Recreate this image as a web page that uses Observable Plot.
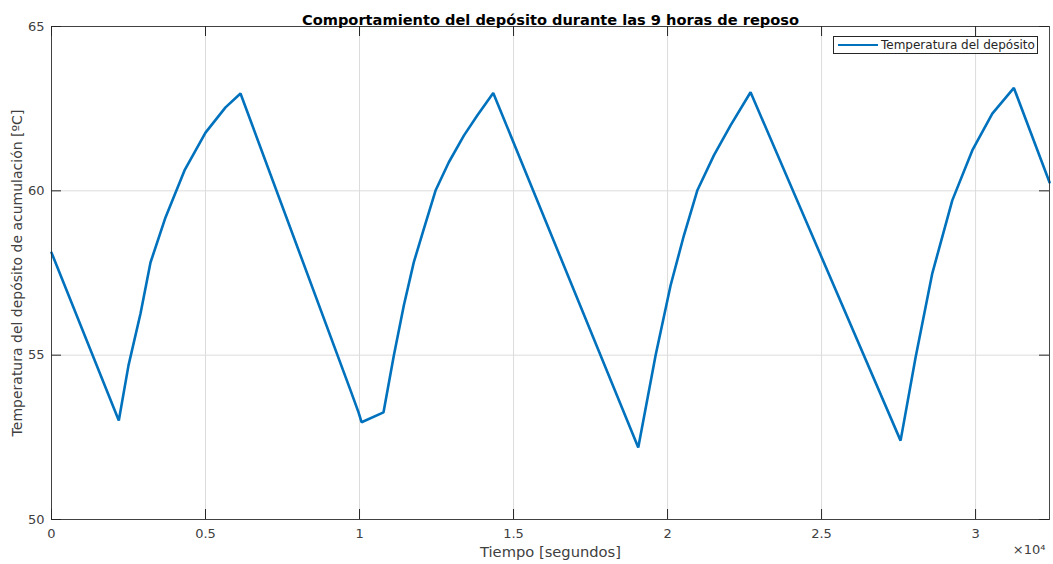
<!DOCTYPE html>
<html>
<head>
<meta charset="utf-8">
<script src="https://cdn.jsdelivr.net/npm/d3@7"></script>
<script src="https://cdn.jsdelivr.net/npm/@observablehq/plot@0.6"></script>
<style>
  body { margin: 0; background: #fff; }
  #wrap { position: relative; width: 1053px; height: 564px; overflow: hidden; }
  #legend {
    position: absolute; left: 833px; top: 36px; width: 203px; height: 16px;
    border: 1px solid #262626; background: #fff;
    font-family: "DejaVu Sans", sans-serif; font-size: 12px; color: #262626;
    display: flex; align-items: center; box-sizing: content-box; white-space: nowrap;
  }
  #legend .sw { width: 40px; height: 0; border-top: 2.5px solid #0072BD; margin-left: 4px; margin-right: 3px; }
</style>
</head>
<body>
<div id="wrap"></div>
<script>
const title = "Comportamiento del depósito durante las 9 horas de reposo";
const xLabel = "Tiempo [segundos]";
const yLabel = "Temperatura del depósito de acumulación [ºC]";
const seriesName = "Temperatura del depósito";
const exponentLabel = "×10⁴";

const tiempo = [0, 2185, 2500, 2890, 3214, 3701, 4318, 5000, 5649, 6136,
  9708, 9968, 10065, 10779, 11114, 11438, 11763, 12088, 12468, 12899, 13387, 13822, 14341,
  19049, 19611, 20098, 20530, 20965, 21504, 22046, 22695,
  27565, 28052, 28595, 29244, 29893, 30543, 31244, 32400];
const temperatura = [58.12, 53.01, 54.69, 56.27, 57.82, 59.19, 60.62, 61.77, 62.54, 62.96,
  53.93, 53.26, 52.96, 53.26, 54.99, 56.51, 57.83, 58.84, 60.01, 60.87, 61.68, 62.29, 62.98,
  52.19, 54.99, 57.12, 58.64, 60.01, 61.08, 61.99, 63.00,
  52.40, 54.93, 57.49, 59.71, 61.23, 62.35, 63.13, 60.26];

const xTicks = [0, 5000, 10000, 15000, 20000, 25000, 30000];
const yTicks = [50, 55, 60, 65];

const data = tiempo.map((t, i) => ({t, v: temperatura[i]}));

const axisColor = "#262626";
const tickLen = 10;
const W = 1053, H = 564, mL = 51, mR = 4, mT = 26, mB = 45;
const fw = W - mL - mR, fh = H - mT - mB;

const chart = Plot.plot({
  width: W, height: H,
  marginLeft: mL, marginRight: mR, marginTop: mT, marginBottom: mB,
  style: {fontFamily: "DejaVu Sans, sans-serif", fontSize: "13px", color: axisColor, background: "#fff"},
  x: {domain: [0, 32400]},
  y: {domain: [50, 65]},
  marks: [
    Plot.gridX(xTicks, {stroke: "#dcdcdc", strokeOpacity: 1}),
    Plot.gridY(yTicks, {stroke: "#dcdcdc", strokeOpacity: 1}),
    Plot.tickX(xTicks, {x: d => d, insetTop: fh - tickLen, stroke: axisColor}),
    Plot.tickX(xTicks, {x: d => d, insetBottom: fh - tickLen, stroke: axisColor}),
    Plot.tickY(yTicks, {y: d => d, insetRight: fw - tickLen, stroke: axisColor}),
    Plot.tickY(yTicks, {y: d => d, insetLeft: fw - tickLen, stroke: axisColor}),
    Plot.line(data, {x: "t", y: "v", stroke: "#0072BD", strokeWidth: 2.6, strokeLinejoin: "miter", curve: "linear"}),
    Plot.frame({stroke: axisColor, strokeOpacity: 0.85}),
    Plot.axisX(xTicks, {tickSize: 0, tickPadding: 9, tickFormat: d => String(d / 1e4), fontSize: 13,
      label: null, fill: "#404040"}),
    Plot.axisY(yTicks, {tickSize: 0, tickPadding: 7, tickFormat: d => String(d), fontSize: 13,
      label: null, fill: "#404040"}),
    Plot.text([xLabel], {frameAnchor: "bottom", dy: 37, fontSize: 14.7, fill: "#404040"}),
    Plot.text([yLabel], {frameAnchor: "left", dx: -34, rotate: -90, textAnchor: "middle", fontSize: 14, fill: "#404040"}),
    Plot.text([title], {frameAnchor: "top", dy: -12, fontWeight: "bold", fontSize: 14.6, fill: "#000"}),
    Plot.text([exponentLabel], {frameAnchor: "bottom-right", dy: 34, dx: -4, textAnchor: "end", fontSize: 13, fill: "#404040"})
  ]
});

const wrap = document.getElementById("wrap");
wrap.appendChild(chart);
const legend = document.createElement("div");
legend.id = "legend";
const sw = document.createElement("span");
sw.className = "sw";
const lt = document.createElement("span");
lt.textContent = seriesName;
legend.appendChild(sw);
legend.appendChild(lt);
wrap.appendChild(legend);
</script>
</body>
</html>
